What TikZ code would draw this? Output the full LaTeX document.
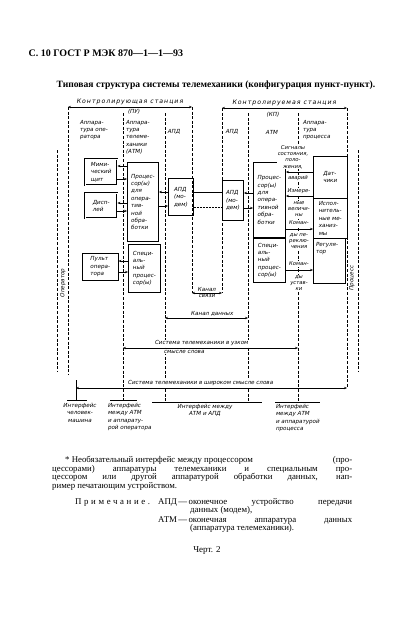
\documentclass[tikz,border=0pt]{standalone}
\usepackage{fontspec}
\setmainfont{Liberation Serif}
\newfontfamily\handfont{DejaVu Sans}
\newfontfamily\widehandfont{DejaVu Sans}[LetterSpace=16]
\usetikzlibrary{arrows.meta}

\begin{document}
\begin{tikzpicture}[x=1pt, y=-1pt, >={Stealth[length=3pt,width=2.4pt]},
    hand/.style={font=\handfont\itshape\fontsize{5.6}{7.4}\selectfont},
    box node/.style={draw, line width=0.9pt, anchor=north west, align=left, inner sep=1.5pt, hand},
    panel node/.style={box node, line width=0.45pt, double, double distance=0.9pt},
    tag node/.style={hand, align=left, inner sep=0.8pt, fill=white},
    sig node/.style={hand, font=\handfont\itshape\fontsize{5.3}{6.4}\selectfont, align=center, inner sep=0.6pt, fill=white},
    wide node/.style={font=\widehandfont\itshape\fontsize{6.2}{7.4}\selectfont, inner sep=0.8pt, fill=white},
    note/.style={inner sep=0pt, font=\fontsize{8.8}{8.7}\selectfont},
    border/.style={line width=0.4pt, dash pattern=on 3pt off 1.6pt},
    link/.style={->, line width=0.5pt},
    band/.style={<->, line width=0.5pt}]

\useasboundingbox (0,0) rectangle (409,638);

% page head
\node[anchor=west, font=\bfseries\fontsize{10}{12}\selectfont] (page) at (25,53) {С. 10 ГОСТ Р МЭК 870—1—1—93};
\node[font=\bfseries\fontsize{9.6}{11}\selectfont] (title) at (216,85) {Типовая структура системы телемеханики (конфигурация пункт-пункт).};

% column borders
\draw[border] (57,150) -- (57,372);
\draw[border] (68,107) -- (68,375);
\draw[border] (123,113) -- (123,400);
\draw[border] (165,113) -- (165,402);
\draw[border] (192,107) -- (192,293);
\draw[border] (222,108) -- (222,293);
\draw[border] (248,113) -- (248,402);
\draw[border] (298,113) -- (298,402);
\draw[border] (347,108) -- (347,388);
\draw[border] (358,150) -- (358,372);

% stations
\draw[band] (68,107) -- node[wide node, above=1.5pt] (ctrl) {Контролирующая станция} (192,107);
\draw[band] (222,108) -- node[wide node, above=1.5pt] (cntd) {Контролируемая станция} (347,108);
\node[tag node] (pu) at (134,112) {(ПУ)};
\node[tag node] (kp) at (273,115) {(КП)};

% column heads
\node[tag node, anchor=north west] (opapp) at (79,119) {Аппара-\\тура опе-\\ратора};
\node[tag node, anchor=north west] (atmapp) at (125,119) {Аппара-\\тура\\телеме-\\ханики\\(АТМ)};
\node[tag node] (apdhL) at (174,132) {АПД};
\node[tag node] (apdhR) at (232,132) {АПД};
\node[tag node] (atmh) at (272,132) {АТМ};
\node[tag node, anchor=north west] (prapp) at (302,119) {Аппара-\\тура\\процесса};
\node[tag node, rotate=90] (oper) at (63,283) {Оператор};
\node[tag node, rotate=90] (proc) at (352,278) {Процесс};

% controlling station
\node[panel node, minimum width=32pt, minimum height=26pt] (mimic) at (85,159) {Мими-\\ческий\\щит};
\node[panel node, minimum width=32pt, minimum height=25pt] (display) at (85,193) {Дисп-\\лей};
\node[box node, line width=0.5pt, minimum width=36pt, minimum height=27pt] (pult) at (82,253) {Пульт\\опера-\\тора};
\node[box node, minimum width=31pt, minimum height=79pt] (procL) at (127,162) {Процес-\\сор(ы)\\для\\опера-\\тив-\\ной\\обра-\\ботки};
\node[box node, minimum width=32pt, minimum height=48pt] (specL) at (128,244) {Специ-\\аль-\\ный\\процес-\\сор(ы)};
\node[box node, minimum width=25pt, minimum height=37pt] (apdL) at (168,178) {АПД\\(мо-\\дем)};

% controlled station
\node[box node, minimum width=21pt, minimum height=40pt] (apdR) at (222,180) {АПД\\(мо-\\дем)};
\node[box node, minimum width=32pt, minimum height=75pt] (procR) at (253,162) {Процес-\\сор(ы)\\для\\опера-\\тивной\\обра-\\ботки};
\node[box node, minimum width=32pt, minimum height=44pt] (specR) at (253,238) {Специ-\\аль-\\ный\\процес-\\сор(ы)};
\node[box node, line width=0.5pt, minimum width=34pt, minimum height=42pt] (sens) at (313,156) {Дат-\\чики};
\node[box node, line width=0.5pt, minimum width=34pt, minimum height=40pt] (act) at (313,198) {Испол-\\нитель-\\ные ме-\\ханиз-\\мы};
\node[box node, line width=0.5pt, minimum width=32pt, minimum height=45pt] (reg) at (313,238) {};
\node[tag node, fill=none, anchor=north west] (regtext) at ([shift={(2pt,-3pt)}]reg.north west) {Регуля-\\тор};

% signals
\node[sig node] (sig1) at (293,157) {Сигналы\\состояния,\\поло-\\жения,};
\node[sig node] (sig2) at (298,178) {аварий};
\node[sig node] (sig3) at (299,191) {Измере-};
\node[sig node] (sig4) at (299,209) {ные\\величи-\\ны};
\node[sig node] (cmd1) at (299,223) {Коман-};
\node[sig node] (cmd2) at (299,241) {ды пе-\\реклю-\\чения};
\node[sig node] (cmd3) at (299,264) {Коман-};
\node[sig node] (cmd4) at (299,283) {ды\\устав-\\ки};

\draw[link] (sens.west |- 0,172) -- (procR.east |- 0,172);
\draw[link] (sens.west |- 0,196) -- (procR.east |- 0,196);
\draw[link] (procR.east |- 0,229) -- (act.west |- 0,229);
\draw[link] (specR.east |- 0,270) -- (reg.west |- 0,270);

\draw[link] (procL.west |- 0,166) -- (mimic.east |- 0,166);
\draw[link] (mimic.east |- 0,179) -- (procL.west |- 0,179);
\draw[link] (procL.west |- 0,203) -- (display.east |- 0,203);
\draw[link] (display.east |- 0,211) -- (procL.west |- 0,211);
\draw[link] (specL.west |- 0,261) -- (pult.east |- 0,261);
\draw[link] (pult.east |- 0,272) -- (specL.west |- 0,272);
\draw[link] (apdL.west |- 0,192) -- (procL.east |- 0,192);
\draw[link] (procL.east |- 0,206) -- (apdL.west |- 0,206);
\draw[line width=0.5pt] (apdL.east |- 0,192) -- (apdR.west |- 0,192);
\draw[line width=0.5pt, densely dotted] (apdL.east |- 0,207) -- (apdR.west |- 0,207);
\draw[link] (procR.west |- 0,193) -- (apdR.east |- 0,193);
\draw[link] (apdR.east |- 0,208) -- (procR.west |- 0,208);

% bands
\draw[band] (192,293) -- node[tag node, above=0.8pt] (chan1) {Канал} node[tag node, below=0.8pt] (chan2) {связи} (222,293);
\draw[band] (165,318) -- node[tag node, above=1pt, pos=0.57] (data) {Канал данных} (248,318);
\draw[band] (123,348) -- node[tag node, above=1pt, pos=0.45] (narrow1) {Система телемеханики в узком} node[tag node, below=1pt, pos=0.35] (narrow2) {смысле слова} (298,348);
\draw[band] (76,388) -- node[tag node, above=1pt, pos=0.46] (broad) {Система телемеханики в широком смысле слова} (347,388);

% interfaces
\draw[line width=0.5pt] (76,380) -- (76,400);
\draw[line width=0.5pt] (67,400) -- (87,400);
\draw[line width=0.5pt] (110,400) -- (137,400);
\draw[line width=0.5pt] (152,402) -- (262,402);
\draw[line width=0.5pt] (275,402) -- (320,402);
\node[tag node, anchor=north, align=center] (if1) at (80,402) {Интерфейс\\человек-\\машина};
\node[tag node, anchor=north west] (if2) at (107,402) {Интерфейс\\между АТМ\\и аппарату-\\рой оператора};
\node[tag node, anchor=north, align=center] (if3) at (205,403) {Интерфейс между\\АТМ и АПД};
\node[tag node, anchor=north west] (if4) at (275,403) {Интерфейс\\между АТМ\\и аппаратурой\\процесса};

% notes
\node[note, anchor=north west, text width=300pt, align=justify] (foot) at (52,456) {\hyphenpenalty=10000\hspace*{13pt}* Необязательный интерфейс между процессором\hfill(про-\linebreak цессорами) аппаратуры телемеханики и специальным про-\linebreak цессором или другой аппаратурой обработки данных, нап-\linebreak ример печатающим устройством.};
\node[note, anchor=west] (remark) at (75,503) {\addfontfeature{LetterSpace=30}Примечание.};
\node[note, anchor=north west, text width=194pt, align=justify] (apdnote) at (158,498) {АПД\,—\,оконечное устройство передачи\linebreak\hspace*{32pt}данных (модем),};
\node[note, anchor=north west, text width=194pt, align=justify] (atmnote) at (158,516) {АТМ\,—\,оконечная аппаратура данных\linebreak\hspace*{32pt}(аппаратура телемеханики).};
\node[font=\fontsize{9}{10}\selectfont] (fig) at (207,550) {Черт. 2};

\end{tikzpicture}
\end{document}
